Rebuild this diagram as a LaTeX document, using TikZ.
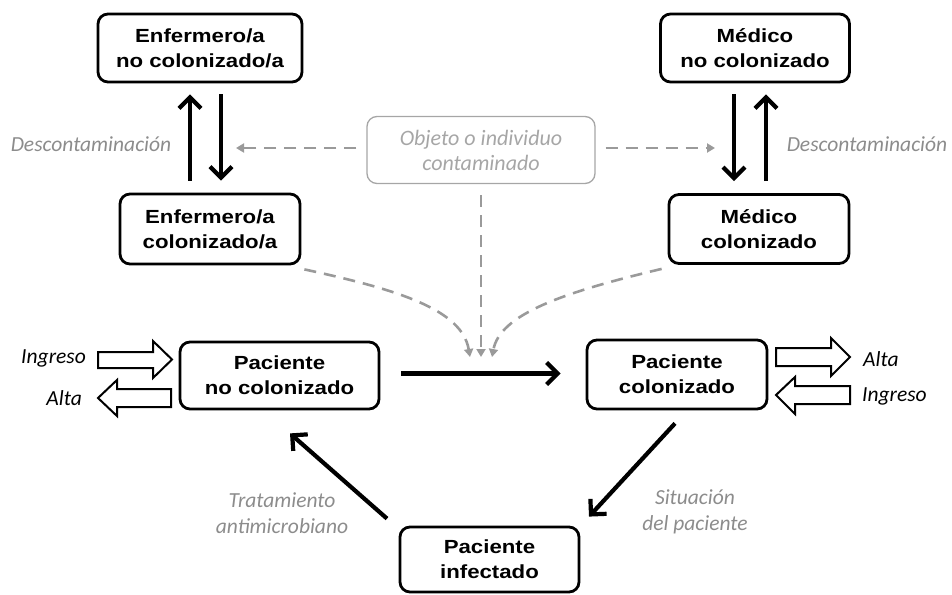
\documentclass[tikz,border=0pt]{standalone}
\usepackage{fontspec}
\usetikzlibrary{arrows.meta,calc}
\newfontfamily\boxfont{Liberation Sans}[FakeStretch=1.17]
\newfontfamily\lblfont{Carlito}
\definecolor{lblgray}{HTML}{8C8C8C}
\definecolor{objgray}{HTML}{A6A6A6}
\definecolor{dashgray}{HTML}{9A9A9A}
\begin{document}
\begin{tikzpicture}[x=1pt,y=-1pt,
  box/.style={draw, line width=2.8pt, rounded corners=10pt, align=center, inner sep=0pt,
    font=\boxfont\bfseries\fontsize{19}{25}\selectfont},
  obj/.style={draw=objgray, line width=1.3pt, rounded corners=10pt, align=center, inner sep=0pt,
    text=objgray, font=\lblfont\itshape\fontsize{22}{25}\selectfont},
  lbl/.style={text=lblgray, align=center, inner sep=0pt, font=\lblfont\itshape\fontsize{21.5}{25.5}\selectfont},
  blbl/.style={text=black, inner sep=0pt, font=\lblfont\itshape\fontsize{21.5}{25}\selectfont},
  flow/.style={line width=4.2pt, -{Straight Barb[length=11pt,width=22pt]}},
  dashflow/.style={dashgray, line width=2.6pt, dash pattern=on 12pt off 8pt, -{Triangle[length=8pt,width=9pt]}},
  blk/.style={draw, line width=2pt, fill=white, line join=miter}
]
\useasboundingbox (0,0) rectangle (952,594);

% boxes
\node[box, minimum width=204, minimum height=68] (en) at (200,48) {Enfermero/a\\no colonizado/a};
\node[box, minimum width=180, minimum height=70] (ec) at (210,229) {Enfermero/a\\colonizado/a};
\node[box, minimum width=189, minimum height=68] (mn) at (755,48) {Médico\\no colonizado};
\node[box, minimum width=180, minimum height=69] (mc) at (759,229) {Médico\\colonizado};
\node[obj, minimum width=228, minimum height=67] (ob) at (481,150) {Objeto o individuo\\contaminado};
\node[box, minimum width=199, minimum height=67] (pn) at (279.5,375.5) {Paciente\\no colonizado};
\node[box, minimum width=180, minimum height=69] (pc) at (677,374.5) {Paciente\\colonizado};
\node[box, minimum width=179, minimum height=65] (pi) at (489.5,559.5) {Paciente\\infectado};

% free ends
\coordinate (dl) at (236,148);
\coordinate (dr) at (715,148);
\coordinate (conv) at (481,357);

% nurse / doctor arrows
\draw[flow, shorten <=12pt, shorten >=11pt] ([xshift=-20pt]ec.north) -- ([xshift=-10pt]en.south);
\draw[flow, shorten <=11pt, shorten >=12pt] ([xshift=21pt]en.south) -- ([xshift=11pt]ec.north);
\draw[flow, shorten <=11pt, shorten >=12pt] ([xshift=-21pt]mn.south) -- ([xshift=-25pt]mc.north);
\draw[flow, shorten <=12pt, shorten >=11pt] ([xshift=7pt]mc.north) -- ([xshift=11pt]mn.south);

\node[lbl] (dcl) at (91,144) {Descontaminación};
\node[lbl] (dcr) at (867,144) {Descontaminación};

% dashed contamination arrows
\draw[dashflow, shorten <=10pt] ([yshift=2pt]ob.west) -- (dl);
\draw[dashflow, shorten <=10pt] ([yshift=2pt]ob.east) -- (dr);
\draw[dashflow, shorten <=11pt] (ob.south) -- (conv);
\draw[dashflow] ([xshift=3pt,yshift=-4pt]ec.south east) .. controls (400,290) and (462,310) .. ([xshift=-11pt]conv);
\draw[dashflow] ([xshift=-6pt,yshift=-4pt]mc.south west) .. controls (560,293) and (500,315) .. ([xshift=11pt]conv);

% patient arrows
\draw[flow, shorten <=21pt, shorten >=25pt] ([yshift=2pt]pn.east) -- ([yshift=1pt]pc.west);
\draw[flow] ([xshift=-2pt,yshift=-13pt]pc.south) -- ([xshift=99.5pt,yshift=9pt]pi.north);
\draw[flow] ([xshift=-102.5pt,yshift=7pt]pi.north) -- ([xshift=10.5pt,yshift=-23pt]pn.south);

\node[lbl] (tr) at (282,513) {Tratamiento\\antimicrobiano};
\node[lbl] (si) at (695,512) {Situación\\del paciente};

% block arrows
\draw[blk] (98,352) -- (153,352) -- (153,341) -- (172,359.5) -- (153,378) -- (153,368) -- (98,368) -- cycle;
\draw[blk] (171,389) -- (117,389) -- (117,380) -- (98,398) -- (117,416) -- (117,407) -- (171,407) -- cycle;
\draw[blk] (776,348) -- (831,348) -- (831,338) -- (850,357) -- (831,376) -- (831,366) -- (776,366) -- cycle;
\draw[blk] (850,386) -- (795,386) -- (795,377) -- (776,395) -- (795,414) -- (795,404) -- (850,404) -- cycle;

\node[blbl, anchor=east] (ingl) at (86,358) {Ingreso};
\node[blbl, anchor=east] (altl) at (82,398) {Alta};
\node[blbl, anchor=west] (altr) at (863,359) {Alta};
\node[blbl, anchor=west] (ingr) at (862,396) {Ingreso};
\end{tikzpicture}
\end{document}
